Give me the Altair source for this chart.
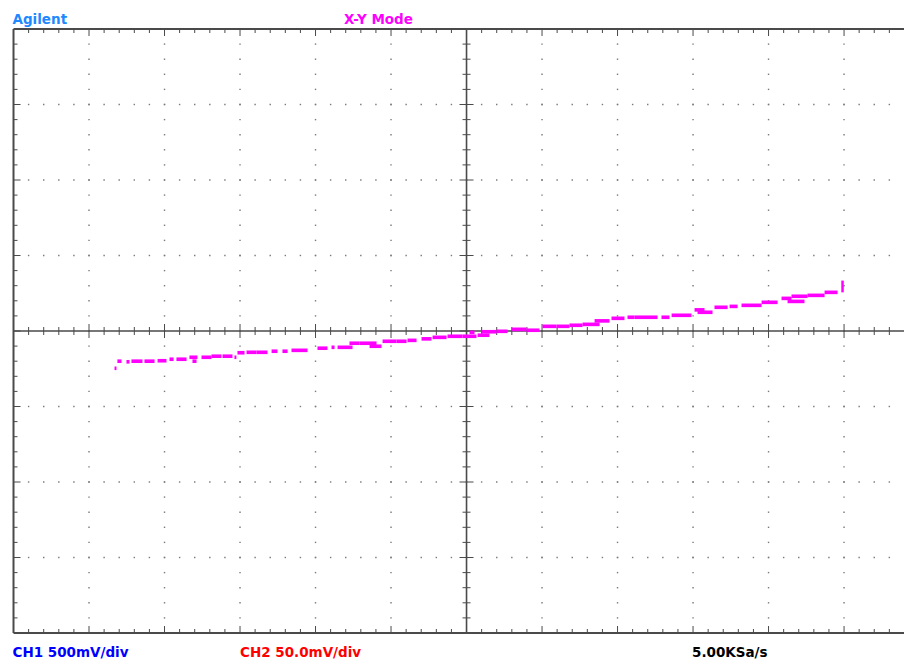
import altair as alt
import pandas as pd
import numpy as np

# ---- Trace data (X = CH1 in volts, Y = CH2 in millivolts) ----
seg_x0 = [-2.331, -2.312, -2.252, -2.219, -2.133, -2.046, -1.967, -1.921, -1.835, -1.815,
          -1.755, -1.689, -1.616, -1.537, -1.517, -1.457, -1.391, -1.291, -1.219, -1.159,
          -0.987, -0.894, -0.854, -0.775, -0.709, -0.642, -0.556, -0.464, -0.391, -0.298,
          -0.225, -0.126, -0.026, 0.020, 0.073, 0.099, 0.199, 0.298, 0.397, 0.503,
          0.596, 0.682, 0.768, 0.848, 0.960, 1.066, 1.113, 1.291, 1.358, 1.510,
          1.530, 1.642, 1.742, 1.821, 1.954, 2.086, 2.152, 2.258, 2.371, 2.126]
seg_x1 = [-2.318, -2.285, -2.232, -2.146, -2.066, -1.987, -1.940, -1.854, -1.782, -1.788,
          -1.689, -1.623, -1.550, -1.524, -1.470, -1.391, -1.318, -1.252, -1.185, -1.053,
          -0.921, -0.874, -0.755, -0.709, -0.596, -0.563, -0.464, -0.397, -0.331, -0.232,
          -0.132, -0.026, 0.066, 0.053, 0.152, 0.199, 0.272, 0.397, 0.483, 0.596,
          0.682, 0.768, 0.881, 0.947, 1.046, 1.113, 1.265, 1.344, 1.490, 1.576,
          1.629, 1.729, 1.795, 1.954, 2.060, 2.152, 2.258, 2.371, 2.457, 2.238]
seg_y_mV = [-24.7, -20.0, -20.4, -20.0, -20.0, -19.7, -18.7, -18.7, -17.4, -20.0,
            -17.4, -16.7, -16.7, -17.4, -14.4, -14.1, -14.1, -13.4, -13.4, -12.8,
            -11.4, -10.8, -10.8, -8.1, -8.1, -10.1, -6.8, -6.8, -6.2, -5.2,
            -4.2, -3.5, -3.5, -0.9, -2.8, -0.5, -0.2, 1.1, 0.5, 3.1,
            3.1, 3.8, 4.4, 6.7, 8.4, 9.1, 9.1, 9.1, 10.4, 14.0,
            12.4, 15.7, 16.3, 17.0, 19.0, 21.6, 23.0, 23.6, 25.6, 19.6]
spike_x = 2.490
spike_y_mV = [25.6, 33.4]

# ---- Screen settings ----
CH1_PER_DIV = 0.5    # V/div
CH2_PER_DIV = 0.05   # V/div
W, H = 892, 604
PXX = 5.96 / 900
X_MIN = -3.01
X_MAX = X_MIN + W * PXX
Y_MIN, Y_MAX = -0.2, 0.2
PXY = (Y_MAX - Y_MIN) / H
LEFT = -6 * CH1_PER_DIV

xs = alt.Scale(domain=[X_MIN, X_MAX], nice=False, zero=False)
ys = alt.Scale(domain=[Y_MIN, Y_MAX], nice=False, zero=False)

GRID_C = "#7a7a7a"
FRAME_C = "#4a4a4a"

# grid dots
dots = []
for k in range(-5, 6):
    if k == 0:
        continue
    for j in range(-19, 20):
        dots.append({"x": k * CH1_PER_DIV, "y": j * CH2_PER_DIV / 5})
for m in range(-3, 4):
    if m == 0:
        continue
    for i in range(-29, 30):
        xv = i * CH1_PER_DIV / 5
        if xv <= X_MAX:
            dots.append({"x": xv, "y": m * CH2_PER_DIV})
dots_df = pd.DataFrame(dots)

# ticks
ticks = []
for i in range(-29, 30):
    L = 7 if i % 5 == 0 else 4
    xv = i * CH1_PER_DIV / 5
    if xv > X_MAX:
        continue
    ticks.append({"x": xv, "x2": xv, "y": Y_MAX, "y2": Y_MAX - L * PXY})
    ticks.append({"x": xv, "x2": xv, "y": Y_MIN, "y2": Y_MIN + L * PXY})
    ticks.append({"x": xv, "x2": xv, "y": -L * PXY, "y2": L * PXY})
for j in range(-19, 20):
    L = 7 if j % 5 == 0 else 4
    yv = j * CH2_PER_DIV / 5
    ticks.append({"x": LEFT, "x2": LEFT + L * PXX, "y": yv, "y2": yv})
    ticks.append({"x": -L * PXX, "x2": L * PXX, "y": yv, "y2": yv})
ticks_df = pd.DataFrame(ticks)

# frame and center lines
lines_df = pd.DataFrame([
    {"x": LEFT, "x2": X_MAX, "y": Y_MAX, "y2": Y_MAX, "w": 2},
    {"x": LEFT, "x2": X_MAX, "y": Y_MIN, "y2": Y_MIN, "w": 2},
    {"x": LEFT, "x2": LEFT, "y": Y_MIN, "y2": Y_MAX, "w": 2},
    {"x": LEFT, "x2": X_MAX, "y": 0.0, "y2": 0.0, "w": 1.6},
    {"x": 0.0, "x2": 0.0, "y": Y_MIN, "y2": Y_MAX, "w": 1.6},
])

trace_df = pd.DataFrame({"x0": seg_x0, "x1": seg_x1, "y_mV": seg_y_mV})
spike_df = pd.DataFrame({"x": [spike_x], "y0": [spike_y_mV[0] / 1000], "y1": [spike_y_mV[1] / 1000]})

dots_layer = alt.Chart(dots_df).mark_square(size=2, color=GRID_C, opacity=1).encode(
    x=alt.X("x:Q", scale=xs, axis=None), y=alt.Y("y:Q", scale=ys, axis=None))

ticks_layer = alt.Chart(ticks_df).mark_rule(color=FRAME_C, strokeWidth=1).encode(
    x=alt.X("x:Q", scale=xs, axis=None), x2="x2:Q",
    y=alt.Y("y:Q", scale=ys, axis=None), y2="y2:Q")

lines_layer = alt.Chart(lines_df).mark_rule(color=FRAME_C).encode(
    x=alt.X("x:Q", scale=xs, axis=None), x2="x2:Q",
    y=alt.Y("y:Q", scale=ys, axis=None), y2="y2:Q",
    strokeWidth=alt.StrokeWidth("w:Q", scale=None, legend=None))

trace_layer = alt.Chart(trace_df).transform_calculate(
    ylo="datum.y_mV / 1000 - 0.0012", yhi="datum.y_mV / 1000 + 0.0012"
).mark_rect(color="#FF00FF").encode(
    x=alt.X("x0:Q", scale=xs, axis=None), x2="x1:Q",
    y=alt.Y("ylo:Q", scale=ys, axis=None), y2="yhi:Q")

spike_layer = alt.Chart(spike_df).mark_rule(color="#FF00FF", strokeWidth=2.5).encode(
    x=alt.X("x:Q", scale=xs, axis=None),
    y=alt.Y("y0:Q", scale=ys, axis=None), y2="y1:Q")


def label(text, px, py, color):
    return alt.Chart(pd.DataFrame({"t": [text]})).mark_text(
        align="left", baseline="alphabetic", font="DejaVu Sans", fontWeight="bold",
        fontSize=13.5, color=color
    ).encode(x=alt.value(px), y=alt.value(py), text="t:N")


texts = [
    label("Agilent", 0.5, -5, "#1E88FF"),
    label("X-Y Mode", 332, -5, "#FF00FF"),
    label("CH1 500mV/div", 0.5, 627.5, "#0000FF"),
    label("CH2 50.0mV/div", 228, 627.5, "#FF0000"),
    label("5.00KSa/s", 680, 627.5, "#000000"),
]

chart = alt.layer(dots_layer, ticks_layer, lines_layer, trace_layer, spike_layer, *texts).properties(
    width=W, height=H,
    autosize="none",
    padding={"left": 4, "top": 21, "right": 0, "bottom": 27},
    background="white",
).configure_view(stroke=None)

chart.save("out.html", embed_options={"renderer": "svg", "actions": False})
